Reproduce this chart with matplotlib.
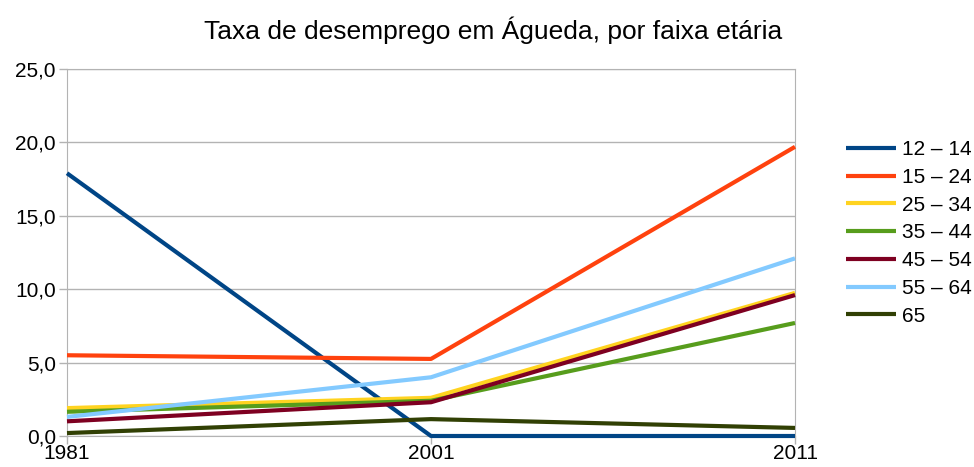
import numpy as np
import matplotlib
matplotlib.use("Agg")
import matplotlib.pyplot as plt
from matplotlib.ticker import FuncFormatter

plt.rcParams['font.family'] = ['Liberation Sans', 'DejaVu Sans']

years = ["1981", "2001", "2011"]
grupos = ["12 – 14", "15 – 24", "25 – 34", "35 – 44", "45 – 54", "55 – 64", "65"]
cores = ["#004586", "#ff420e", "#ffd320", "#579d1c", "#7e0021", "#83caff", "#314004"]

v_12_14 = [17.9, 0.0, 0.0]
v_15_24 = [5.5, 5.25, 19.7]
v_25_34 = [1.9, 2.6, 9.75]
v_35_44 = [1.65, 2.4, 7.7]
v_45_54 = [1.0, 2.3, 9.6]
v_55_64 = [1.3, 4.0, 12.1]
v_65 = [0.2, 1.15, 0.55]
series = [v_12_14, v_15_24, v_25_34, v_35_44, v_45_54, v_55_64, v_65]

fig = plt.figure(figsize=(9.74, 4.67), dpi=100)
ax = fig.add_axes([67/974, 31/467, (795-67)/974, (436-69)/467])

x = np.arange(len(years))
for vals, nome, cor in zip(series, grupos, cores):
    ax.plot(x, vals, color=cor, lw=3, label=nome, solid_capstyle="butt",
            clip_on=False, zorder=3)

ax.set_xlim(0, len(years) - 1)
ax.set_ylim(0, 25)
ax.set_yticks(np.arange(0, 26, 5))
ax.yaxis.set_major_formatter(FuncFormatter(lambda v, p: f"{v:.1f}".replace(".", ",")))
ax.set_xticks(x)
ax.set_xticklabels(years)

ax.grid(axis="y", color="#b3b3b3", lw=1)
ax.set_axisbelow(True)
for s in ax.spines.values():
    s.set_color("#b3b3b3")
ax.tick_params(axis="both", colors="#b3b3b3", labelcolor="black", labelsize=15, length=6, width=1)
ax.tick_params(axis="y", pad=2)
ax.tick_params(axis="x", pad=0)

fig.text(493/974, 1 - 30/467, "Taxa de desemprego em Águeda, por faixa etária",
         ha="center", va="center", fontsize=19)

ax.legend(loc="center left", bbox_to_anchor=(846/974, 1 - 233/467),
          bbox_transform=fig.transFigure, frameon=False, fontsize=15,
          handlelength=2.4, handletextpad=0.3, labelspacing=0.42,
          borderaxespad=0, borderpad=0)

fig.savefig("out.png", dpi=100)
